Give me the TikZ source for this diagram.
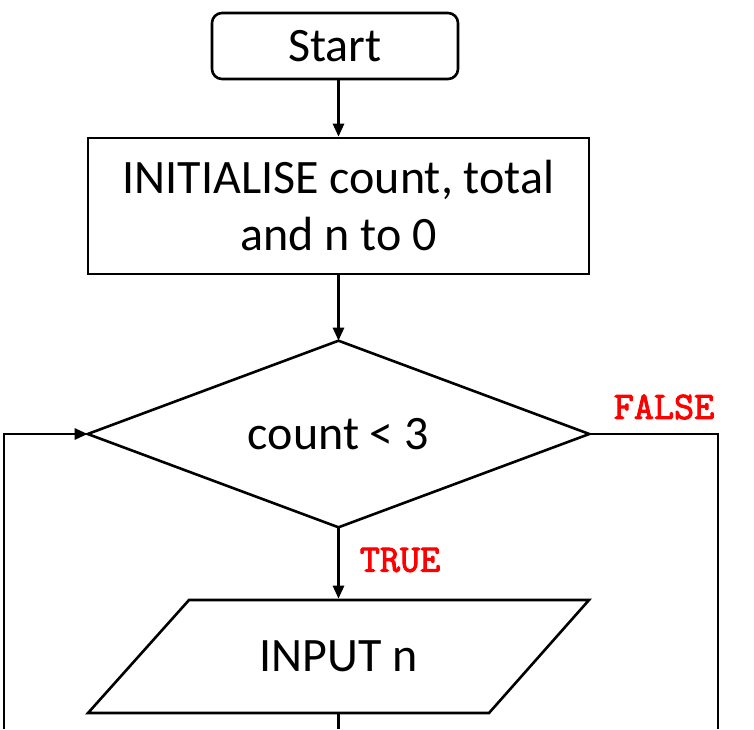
\documentclass[tikz,border=0pt]{standalone}
\usepackage{fontspec}
\setmainfont{Carlito}
\newfontfamily\monob[FakeBold=2.5]{Latin Modern Mono}
\usetikzlibrary{arrows.meta}
\begin{document}
\begin{tikzpicture}[x=0.5pt,y=-0.5pt,
  line width=1.3pt,
  every node/.style={font=\fontsize{24}{28.5}\selectfont},
  boxstyle/.style={draw, inner sep=0pt, align=center},
  hidden/.style={inner sep=0pt},
  arr/.style={-{Triangle[length=6.5pt,width=5.5pt]}},
  lbl/.style={text=red, font=\monob\fontsize{19.5}{22}\selectfont, inner sep=0pt}]
\useasboundingbox (0,0) rectangle (754,729);
\node[boxstyle, rounded corners=5pt, minimum width=123pt, minimum height=33pt] (start) at (335,46) {Start};
\node[boxstyle, minimum width=250.5pt, minimum height=68pt] (init) at (338.5,206) {INITIALISE count, total\\and n to 0};
\node[hidden, minimum width=249.5pt, minimum height=92pt] (dec) at (338.5,434) {count < 3};
\draw[line join=miter] (dec.north) -- (dec.east) -- (dec.south) -- (dec.west) -- cycle;
\node[hidden, minimum width=200pt, minimum height=56.5pt] (inp) at (338.5,656.5) {INPUT n};
\draw[line join=miter] (189,600) -- (589,600) -- (489,713) -- (88,713) -- cycle;
\coordinate (rt) at (718,434);
\coordinate (rb) at (718,729);
\coordinate (lt) at (4,434);
\coordinate (lb) at (4,729);
\coordinate (bot) at (338.5,729);
\draw[arr] (start.south -| init.north) -- (init.north);
\draw[arr] (init.south) -- (dec.north);
\draw[arr] (dec.south) -- (inp.north);
\draw (dec.east) -- (rt) -- (rb);
\draw[arr] (lb) -- (lt) -- (dec.west);
\draw (inp.south) -- (bot);
\node[lbl] (f) at (664,407) {FALSE};
\node[lbl] (t) at (400,560) {TRUE};
\end{tikzpicture}
\end{document}
